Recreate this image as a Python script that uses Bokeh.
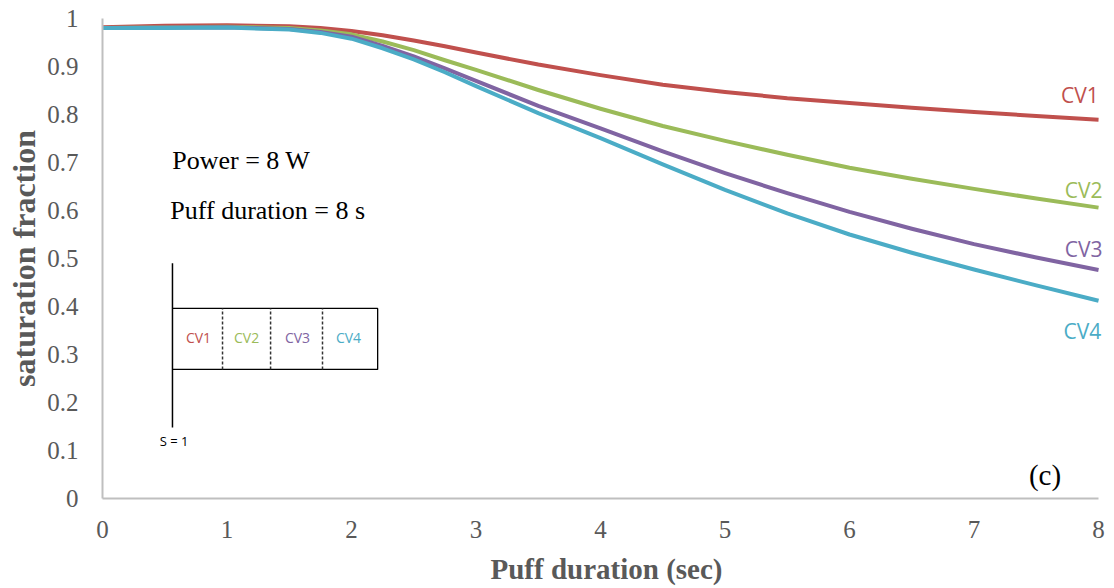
from bokeh.plotting import figure
from bokeh.models import ColumnDataSource, Range1d, FixedTicker
from bokeh.core.properties import value
from bokeh.embed import file_html
from bokeh.resources import INLINE

# Saturation fraction along the puff, one series per control volume
time_s = [0, 0.5, 1, 1.5, 1.75, 2, 2.25, 2.5, 2.75, 3, 3.5, 4, 4.5, 5, 5.5, 6, 6.5, 7, 7.5, 8]
cv1 = [0.982, 0.985, 0.986, 0.984, 0.980, 0.974, 0.965, 0.954, 0.942, 0.929, 0.904, 0.882,
       0.862, 0.847, 0.834, 0.824, 0.814, 0.805, 0.797, 0.789]
cv2 = [0.980, 0.982, 0.983, 0.980, 0.975, 0.967, 0.952, 0.934, 0.913, 0.893, 0.851, 0.812,
       0.776, 0.745, 0.716, 0.689, 0.666, 0.645, 0.625, 0.606]
cv3 = [0.980, 0.981, 0.982, 0.978, 0.972, 0.962, 0.943, 0.921, 0.896, 0.870, 0.818, 0.771,
       0.723, 0.678, 0.636, 0.597, 0.562, 0.530, 0.502, 0.476]
cv4 = [0.980, 0.980, 0.981, 0.977, 0.970, 0.958, 0.938, 0.915, 0.888, 0.859, 0.803, 0.751,
       0.696, 0.643, 0.594, 0.550, 0.512, 0.477, 0.444, 0.412]

series_names = ["CV1", "CV2", "CV3", "CV4"]
series_colors = ["#C0504D", "#9BBB59", "#8064A2", "#4BACC6"]
# where each curve's name sits near the right edge
label_x = [7.85, 7.88, 7.88, 7.87]
label_y = [0.84, 0.642, 0.52, 0.35]

x_ticks = [0, 1, 2, 3, 4, 5, 6, 7, 8]
y_ticks = [0, 0.1, 0.2, 0.3, 0.4, 0.5, 0.6, 0.7, 0.8, 0.9, 1]
y_tick_labels = {0: "0", 0.1: "0.1", 0.2: "0.2", 0.3: "0.3", 0.4: "0.4", 0.5: "0.5",
                 0.6: "0.6", 0.7: "0.7", 0.8: "0.8", 0.9: "0.9", 1: "1"}

SERIF = "Liberation Serif"
SANS = "Open Sans"
GREY = "#595959"

# a little room past x = 8 keeps the curve names unclipped; the axis stops at 8
p = figure(width=1114, height=588, output_backend="svg", toolbar_location=None,
           x_range=Range1d(0, 8.096), y_range=Range1d(0, 1),
           min_border_left=102, min_border_right=4, min_border_top=18, min_border_bottom=90)
p.outline_line_color = None
p.xgrid.grid_line_color = None
p.ygrid.grid_line_color = None
p.background_fill_color = "white"
p.border_fill_color = "white"

for ax in (p.xaxis[0], p.yaxis[0]):
    ax.axis_line_color = "#BFBFBF"
    ax.axis_line_width = 2
    ax.major_tick_line_color = None
    ax.minor_tick_line_color = None
    ax.major_label_text_font = SERIF
    ax.major_label_text_font_size = "25px"
    ax.major_label_text_color = GREY
    ax.axis_label_text_font = SERIF
    ax.axis_label_text_font_style = "bold"
    ax.axis_label_text_color = GREY

p.xaxis.bounds = (0, 8)
p.xaxis.ticker = FixedTicker(ticks=x_ticks)
p.yaxis.ticker = FixedTicker(ticks=y_ticks)
p.yaxis.major_label_overrides = y_tick_labels
p.xaxis.major_label_standoff = 16
p.yaxis.major_label_standoff = 18
p.xaxis.axis_label = "Puff duration (sec)"
p.yaxis.axis_label = "saturation fraction"
p.xaxis.axis_label_text_font_size = "29px"
p.yaxis.axis_label_text_font_size = "32px"
p.xaxis.axis_label_standoff = 12
p.yaxis.axis_label_standoff = 2

for ys, color in zip([cv1, cv2, cv3, cv4], series_colors):
    p.line(time_s, ys, line_color=color, line_width=4, line_join="round")

# Curve end labels
end_src = ColumnDataSource(dict(x=label_x, y=label_y, text=series_names, color=series_colors))
p.text(x="x", y="y", text="text", text_color="color", source=end_src,
       text_font=value(SANS), text_font_size="21px",
       text_align="center", text_baseline="middle")

# Operating conditions
p.text(x=[0.56, 0.545], y=[0.704, 0.6], text=["Power = 8 W", "Puff duration = 8 s"],
       text_font=value(SERIF), text_font_size="26px", text_color="black",
       text_align="left", text_baseline="middle")
p.text(x=[7.57], y=[0.05], text=["(c)"], text_font=value(SERIF),
       text_font_size="29px", text_color="black",
       text_align="center", text_baseline="middle")

# Schematic of the four control volumes
wall_x = 0.562
box_left, box_right = 0.562, 2.21
box_bottom, box_top = 0.269, 0.396
dividers = [0.964, 1.35, 1.767]
p.line([wall_x, wall_x], [0.148, 0.49], line_color="black", line_width=1.5)
p.line([box_left, box_right, box_right, box_left],
       [box_top, box_top, box_bottom, box_bottom], line_color="black", line_width=1.3)
for dx in dividers:
    p.line([dx, dx], [box_bottom, box_top], line_color="#333333",
           line_width=1.5, line_dash="3 2")
cell_src = ColumnDataSource(dict(x=[0.771, 1.157, 1.566, 1.976], y=[0.335] * 4,
                                 text=series_names, color=series_colors))
p.text(x="x", y="y", text="text", text_color="color", source=cell_src,
       text_font=value(SANS), text_font_size="14px",
       text_align="center", text_baseline="middle")
p.text(x=[0.575], y=[0.12], text=["S = 1"], text_font=value(SANS),
       text_font_size="13px", text_color="black",
       text_align="center", text_baseline="middle")

open("out.html", "w").write(file_html(p, INLINE))
